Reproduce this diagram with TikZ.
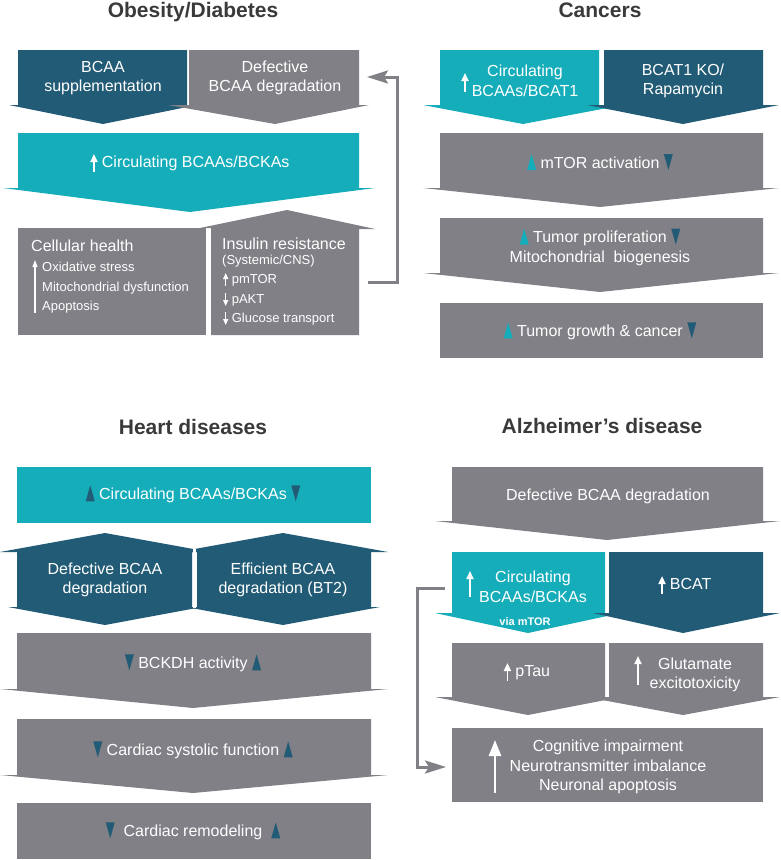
\documentclass[tikz,border=0pt]{standalone}
\usepackage{fontspec}
\setmainfont{Liberation Sans}
\usetikzlibrary{arrows.meta}

\definecolor{bcteal}{RGB}{22,173,186}
\definecolor{bcdark}{RGB}{34,91,117}
\definecolor{bcgray}{RGB}{128,128,134}
\definecolor{titlegray}{RGB}{58,58,58}

% small inline symbols
\newcommand{\wup}{\tikz[baseline=0pt]\draw[white,line width=1.8pt,-{Triangle[width=7pt,length=8pt]}] (0pt,-5pt) -- (0pt,13pt);}
\newcommand{\wsup}{\tikz[baseline=0pt]\draw[white,line width=1.2pt,-{Triangle[width=5pt,length=6pt]}] (0pt,-3pt) -- (0pt,10pt);}
\newcommand{\wsdn}{\tikz[baseline=0pt]\draw[white,line width=1.2pt,-{Triangle[width=5pt,length=6pt]}] (0pt,10pt) -- (0pt,-3pt);}
\newcommand{\mkup}[1]{\tikz[baseline=0pt]\fill[#1] (0pt,-2pt) -- (4.5pt,14pt) -- (9pt,-2pt) -- cycle;}
\newcommand{\mkdn}[1]{\tikz[baseline=0pt]\fill[#1] (0pt,14pt) -- (4.5pt,-2pt) -- (9pt,14pt) -- cycle;}

\begin{document}
\begin{tikzpicture}[x=1pt,y=-1pt,
  lbl/.style={text=white,align=center,font=\fontsize{16}{19.5}\selectfont},
  lst/.style={text=white,anchor=base west,inner sep=0pt,font=\fontsize{13}{15}\selectfont},
  ttl/.style={text=titlegray,anchor=base,font=\fontsize{21}{25}\selectfont\bfseries},
  warrow/.style={white,line width=1.8pt,-{Triangle[width=7pt,length=8pt]}},
  loopback/.style={bcgray,line width=3pt,-{Stealth[length=21pt,width=13pt,inset=4pt]}}]
\useasboundingbox (0,0) rectangle (780,860);

% Obesity/Diabetes
\node[ttl] (obT) at (193,17) {Obesity/Diabetes};
\fill[bcdark] (18,50) -- (187,50) -- (187,105) -- (197,105) -- (103,124) -- (9,105) -- (18,105) -- cycle;
\fill[bcgray] (189,50) -- (359,50) -- (359,105) -- (369,105) -- (275,124) -- (168,105) -- (189,105) -- cycle;
\fill[bcteal] (18,133) -- (359,133) -- (359,188) -- (375,188) -- (190,212) -- (3,188) -- (18,188) -- cycle;
\fill[bcgray] (18,228) rectangle (206,335);
\fill[bcgray] (211,335) -- (211,228) -- (200,228) -- (287,210) -- (375,229) -- (359,229) -- (359,335) -- cycle;
\node[lbl] (obSup) at (103,78) {BCAA\\supplementation};
\node[lbl] (obDef) at (275,78) {Defective\\BCAA degradation};
\node[lbl] (obCirc) at (190,163) {\wup\ Circulating BCAAs/BCKAs};
\node[lst,font=\fontsize{16}{19}\selectfont] (obCell) at (31,251) {Cellular health};
\node[lst] (obOx) at (42,271) {Oxidative stress};
\node[lst] (obMito) at (42,291) {Mitochondrial dysfunction};
\node[lst] (obApo) at (42,310) {Apoptosis};
\draw[white,line width=1.2pt,-{Triangle[width=5pt,length=7pt]}] (35,313) -- (35,260);
\node[lst,font=\fontsize{16}{19}\selectfont] (obIns) at (222,249) {Insulin resistance};
\node[lst] (obSys) at (222,264) {(Systemic/CNS)};
\node[lst] (obMtor) at (223,283) {\wsup\ pmTOR};
\node[lst] (obAkt) at (223,303) {\wsdn\ pAKT};
\node[lst] (obGlu) at (223,322) {\wsdn\ Glucose transport};
\coordinate (obFrom) at (368,282);
\coordinate (obTo) at (367,77);
\draw[loopback] (obFrom) -- ++(29,0) |- (obTo);

% Cancers
\node[ttl] (caT) at (600,17) {Cancers};
\fill[bcteal] (440,50) -- (599,50) -- (599,105) -- (623,105) -- (523,124) -- (423,105) -- (440,105) -- cycle;
\fill[bcdark] (604,50) -- (763,50) -- (763,105) -- (779,105) -- (683,124) -- (587,105) -- (604,105) -- cycle;
\fill[bcgray] (440,133) -- (763,133) -- (763,188) -- (779,188) -- (600,207) -- (423,188) -- (440,188) -- cycle;
\fill[bcgray] (440,218) -- (763,218) -- (763,273) -- (779,273) -- (600,292) -- (423,273) -- (440,273) -- cycle;
\fill[bcgray] (440,303) rectangle (763,358);
\node[lbl] (caCirc) at (525,81) {Circulating\\BCAAs/BCAT1};
\draw[warrow] (465,92) -- (465,73);
\node[lbl] (caKo) at (683,81) {BCAT1 KO/\\Rapamycin};
\node[lbl] (caMtor) at (600,162) {\mkup{bcteal} mTOR activation \mkdn{bcdark}};
\node[lbl] (caProl) at (600,247) {\mkup{bcteal} Tumor proliferation \mkdn{bcdark}\\Mitochondrial\ \ biogenesis};
\node[lbl] (caGrow) at (600,331) {\mkup{bcteal} Tumor growth \& cancer \mkdn{bcdark}};

% Heart diseases
\node[ttl] (heT) at (193,434) {Heart diseases};
\fill[bcteal] (17,467) rectangle (371,523);
\fill[bcdark] (0,552) -- (105,533) -- (210,552) -- (192,552) -- (192,607) -- (202,607) -- (105,625) -- (8,607) -- (17,607) -- (17,552) -- cycle;
\fill[bcdark] (178,552) -- (283,533) -- (388,552) -- (371,552) -- (371,607) -- (380,607) -- (283,625) -- (186,607) -- (197,607) -- (197,552) -- cycle;
\draw[white,line width=3.5pt] (194.5,549) -- (194.5,608);
\fill[bcgray] (17,633) -- (371,633) -- (371,689) -- (388,689) -- (193,708) -- (0,689) -- (17,689) -- cycle;
\fill[bcgray] (17,719) -- (371,719) -- (371,775) -- (388,775) -- (193,793) -- (0,775) -- (17,775) -- cycle;
\fill[bcgray] (17,803) rectangle (371,859);
\node[lbl] (heCirc) at (193,494) {\mkup{bcdark} Circulating BCAAs/BCKAs \mkdn{bcdark}};
\node[lbl] (heDef) at (105,580) {Defective BCAA\\degradation};
\node[lbl] (heEff) at (283,580) {Efficient BCAA\\degradation (BT2)};
\node[lbl] (heBck) at (193,663) {\mkdn{bcdark} BCKDH activity \mkup{bcdark}};
\node[lbl] (heSys) at (193,750) {\mkdn{bcdark} Cardiac systolic function \mkup{bcdark}};
\node[lbl] (heRem) at (193,831) {\mkdn{bcdark}\ \ Cardiac remodeling\ \ \mkup{bcdark}};

% Alzheimer's disease
\node[ttl] (alT) at (602,433) {Alzheimer’s disease};
\fill[bcgray] (452,467) -- (763,467) -- (763,521) -- (780,521) -- (607,540) -- (435,521) -- (452,521) -- cycle;
\fill[bcteal] (452,552) -- (605,552) -- (605,613) -- (621,613) -- (528,633) -- (435,613) -- (452,613) -- cycle;
\fill[bcdark] (609,552) -- (763,552) -- (763,613) -- (780,613) -- (683,633) -- (593,613) -- (609,613) -- cycle;
\fill[bcgray] (452,643) -- (605,643) -- (605,697) -- (621,697) -- (528,715) -- (435,697) -- (452,697) -- cycle;
\fill[bcgray] (609,643) -- (763,643) -- (763,697) -- (780,697) -- (683,715) -- (586,697) -- (609,697) -- cycle;
\fill[bcgray] (452,728) rectangle (763,802);
\node[lbl] (alDef) at (608,496) {Defective BCAA degradation};
\node[lbl] (alCirc) at (533,587) {Circulating\\BCAAs/BCKAs};
\draw[warrow] (470,597) -- (470,571);
\node[lbl,font=\fontsize{11}{13}\selectfont\bfseries] (alVia) at (525,622) {via mTOR};
\node[lbl] (alBcat) at (685,585) {\wup\ BCAT};
\node[lbl] (alTau) at (527,672) {\wup\ pTau};
\node[lbl] (alGlu) at (695,675) {Glutamate\\excitotoxicity};
\draw[warrow] (638,685) -- (638,656);
\node[lbl] (alCog) at (608,767) {Cognitive impairment\\Neurotransmitter imbalance\\Neuronal apoptosis};
\draw[white,line width=2.5pt,-{Triangle[width=12pt,length=16pt]}] (495,793) -- (495,740);
\coordinate (alFrom) at (445,588);
\coordinate (alTo) at (446,767);
\draw[loopback] (alFrom) -- ++(-28,0) |- (alTo);
\end{tikzpicture}
\end{document}
